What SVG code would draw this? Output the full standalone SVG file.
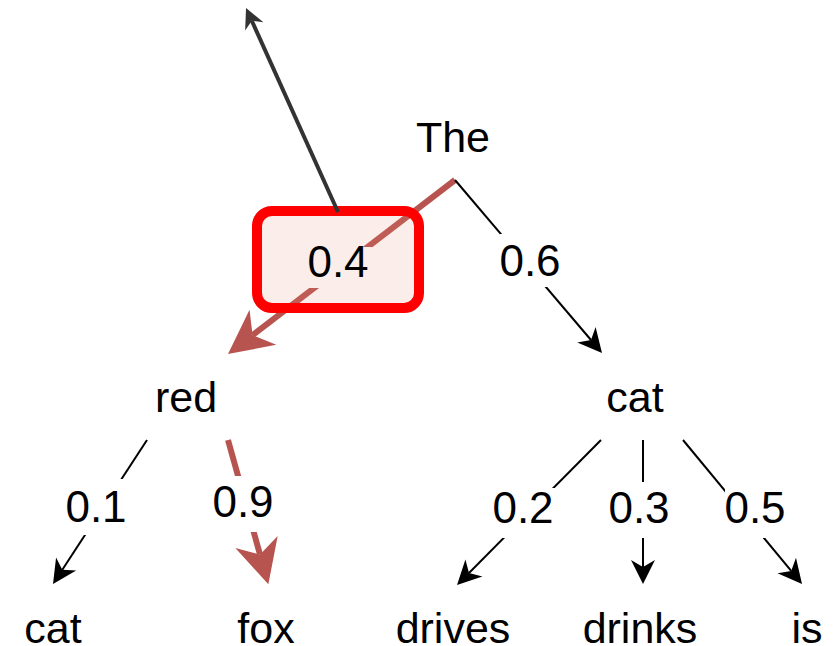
<svg xmlns="http://www.w3.org/2000/svg" width="836" height="646" viewBox="0 0 836 646">
<style>
.w{font-family:"Liberation Sans",Arial,Helvetica,sans-serif;font-size:43px;fill:#000;text-anchor:middle}
.n{font-family:"Liberation Sans",Arial,Helvetica,sans-serif;font-size:44px;fill:#000;text-anchor:middle}
.bg{fill:#fff}
.blk{stroke:#000;stroke-width:2;fill:none}
.redl{stroke:#b85450;stroke-width:6;fill:none}
.dark{stroke:#333;stroke-width:4;fill:none}
</style>
<defs>
<marker id="mBlk" markerUnits="userSpaceOnUse" markerWidth="26" markerHeight="26" refX="7" refY="12" orient="auto" overflow="visible"><path d="M0,0 L24,12 L0,24 L7,12 Z" fill="#000"/></marker>
<marker id="mRed" markerUnits="userSpaceOnUse" markerWidth="46" markerHeight="46" refX="13" refY="22" orient="auto" overflow="visible"><path d="M0,0 L44,22 L0,44 L13,22 Z" fill="#b85450"/></marker>
<marker id="mDark" markerUnits="userSpaceOnUse" markerWidth="22" markerHeight="22" refX="6" refY="10" orient="auto" overflow="visible"><path d="M0,0 L20,10 L0,20 L6,10 Z" fill="#333"/></marker>
</defs>
<g id="connectors">
<line class="redl" x1="455" y1="180" x2="252.6" y2="335.2" marker-end="url(#mRed)"/>
<line class="blk" x1="455" y1="180" x2="591" y2="340" marker-end="url(#mBlk)"/>
<line class="blk" x1="147" y1="440" x2="62.3" y2="569.8" marker-end="url(#mBlk)"/>
<line class="redl" x1="228" y1="440" x2="260" y2="554.5" marker-end="url(#mRed)"/>
<line class="blk" x1="601" y1="440" x2="469" y2="573" marker-end="url(#mBlk)"/>
<line class="blk" x1="643" y1="440" x2="643" y2="567" marker-end="url(#mBlk)"/>
<line class="blk" x1="683" y1="440" x2="791.2" y2="570.9" marker-end="url(#mBlk)"/>
</g>
<g id="label-04">
<rect x="257" y="211" width="162" height="97" rx="15" fill="#e48e73" fill-opacity="0.15"/>
<rect x="304" y="247" width="68" height="41" fill="#fbeeea"/>
<rect x="257" y="211" width="162" height="97" rx="15" fill="none" stroke="#ff0000" stroke-width="10"/>
<text class="n" x="338" y="277" fill="#222">0.4</text>
</g>
<g id="dark-arrow">
<line class="dark" x1="338" y1="212" x2="251.8" y2="20.8" marker-end="url(#mDark)"/>
</g>
<g id="labels">
<rect class="bg" x="500" y="234" width="62" height="53"/>
<text class="n" x="530" y="276">0.6</text>
<rect class="bg" x="68" y="479" width="60" height="56"/>
<text class="n" x="96" y="522">0.1</text>
<rect class="bg" x="213" y="476" width="60" height="56"/>
<text class="n" x="243" y="517">0.9</text>
<rect class="bg" x="494" y="488" width="62" height="50"/>
<text class="n" x="523" y="523">0.2</text>
<rect class="bg" x="609" y="482" width="62" height="56"/>
<text class="n" x="639" y="523">0.3</text>
<rect class="bg" x="725" y="489" width="60" height="49"/>
<text class="n" x="755" y="523">0.5</text>
</g>
<g id="node-the"><text class="w" x="453" y="152">The</text></g>
<g id="node-red"><text class="w" x="186" y="412">red</text></g>
<g id="node-cat1"><text class="w" x="635" y="412">cat</text></g>
<g id="node-cat2"><text class="w" x="53" y="643">cat</text></g>
<g id="node-fox"><text class="w" x="266" y="643">fox</text></g>
<g id="node-drives"><text class="w" x="453" y="643">drives</text></g>
<g id="node-drinks"><text class="w" x="640" y="643">drinks</text></g>
<g id="node-is"><text class="w" x="807" y="643">is</text></g>
</svg>
